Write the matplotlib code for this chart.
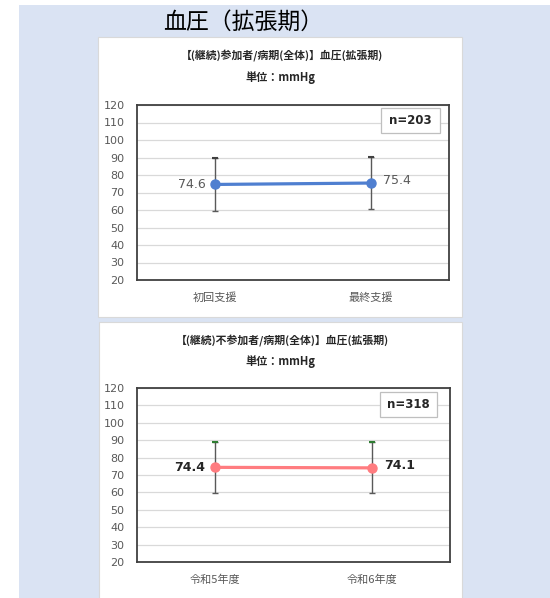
import matplotlib.pyplot as plt
from matplotlib.patches import Rectangle

plt.rcParams['font.family'] = ['Noto Sans CJK JP', 'DejaVu Sans']

# データ
main_title = '血圧（拡張期）'
unit_text = '単位：mmHg'

title1 = '【(継続)参加者/病期(全体)】血圧(拡張期)'
labels1 = ['初回支援', '最終支援']
mean1 = [74.6, 75.4]
sd1 = [15.0, 15.0]
n1 = 203

title2 = '【(継続)不参加者/病期(全体)】血圧(拡張期)'
labels2 = ['令和5年度', '令和6年度']
mean2 = [74.4, 74.1]
sd2 = [14.8, 14.7]
n2 = 318

yticks = list(range(20, 121, 10))

W, H = 550, 598
fig = plt.figure(figsize=(W / 100, H / 100), dpi=100)
fig.patch.set_facecolor('white')


def px_rect(x0, y0, x1, y1, **kw):
    # ピクセル座標 -> figure座標の矩形
    r = Rectangle((x0 / W, 1 - y1 / H), (x1 - x0) / W, (y1 - y0) / H,
                  transform=fig.transFigure, **kw)
    fig.patches.append(r)


# 背景
px_rect(19, 5, 550, 598, facecolor='#DAE3F3', edgecolor='none', zorder=0)
px_rect(98, 37, 462, 317, facecolor='white', edgecolor='#D9D9D9', lw=0.8, zorder=1)
px_rect(99, 322, 462, 600, facecolor='white', edgecolor='#D9D9D9', lw=0.8, zorder=1)

fig.text(243 / W, 1 - 22 / H, main_title, fontsize=16.5, ha='center', va='center')


def draw_panel(rect, title, title_y, unit_y, labels, mean, sd, n, nbox,
               color, label_color, label_bold, top_cap_color):
    ax = fig.add_axes(rect)
    ax.set_zorder(2)
    x = list(range(len(labels)))
    ax.errorbar(x, mean, yerr=sd, fmt='none', ecolor='#595959', elinewidth=1,
                capsize=2.5, capthick=1, zorder=3)
    # 上側のキャップ色
    ax.plot(x, [m + s for m, s in zip(mean, sd)], ls='none', marker='_',
            ms=5, mew=1.5, color=top_cap_color, zorder=4)
    ax.plot(x, mean, color=color, lw=2.3, marker='o', ms=6.5, zorder=5)

    ax.annotate(f'{mean[0]:.1f}', (x[0], mean[0]), xytext=(-7, 0),
                textcoords='offset points', ha='right', va='center',
                fontsize=9, color=label_color, family='DejaVu Sans',
                fontweight='bold' if label_bold else 'normal')
    ax.annotate(f'{mean[1]:.1f}', (x[1], mean[1]), xytext=(9, 2),
                textcoords='offset points', ha='left', va='center',
                fontsize=9, color=label_color, family='DejaVu Sans',
                fontweight='bold' if label_bold else 'normal')

    ax.set_xlim(-0.5, len(labels) - 0.5)
    ax.set_ylim(20, 120)
    ax.set_yticks(yticks)
    ax.set_xticks(x)
    ax.set_xticklabels(labels, fontsize=8, color='#595959')
    for t in ax.get_yticklabels():
        t.set_family('DejaVu Sans')
    ax.tick_params(axis='y', length=0, pad=9, labelsize=8, labelcolor='#595959')
    ax.tick_params(axis='x', length=0, pad=9)
    ax.grid(axis='y', color='#D9D9D9', lw=0.9)
    ax.set_axisbelow(True)
    for s in ax.spines.values():
        s.set_color('#404040')
        s.set_linewidth(1.3)

    bx0, by0, bw, bh = nbox
    ax.add_patch(Rectangle((bx0, by0), bw, bh, transform=ax.transAxes,
                           facecolor='white', edgecolor='#BFBFBF', lw=0.9, zorder=6))
    ax.text(bx0 + bw / 2, by0 + bh / 2, f'n={n}', transform=ax.transAxes,
            ha='center', va='center', fontsize=8.5, fontweight='bold',
            family='DejaVu Sans', color='#262626', zorder=7)

    fig.text(282 / W, 1 - title_y / H, title, fontsize=7.8, fontweight='bold',
             ha='center', va='center', color='#262626')
    fig.text(280 / W, 1 - unit_y / H, unit_text, fontsize=8, fontweight='bold',
             ha='center', va='center', color='#262626')
    return ax


draw_panel([137 / W, 1 - 280 / H, 312 / W, 175 / H], title1, 56, 78,
           labels1, mean1, sd1, n1, (0.782, 0.84, 0.189, 0.143),
           '#4F7FD0', '#595959', False, '#404040')
draw_panel([137 / W, 1 - 562 / H, 313 / W, 174 / H], title2, 341, 362,
           labels2, mean2, sd2, n2, (0.776, 0.833, 0.182, 0.144),
           '#FF7C80', '#262626', True, '#2E7D32')

fig.savefig('out.png', dpi=100)
